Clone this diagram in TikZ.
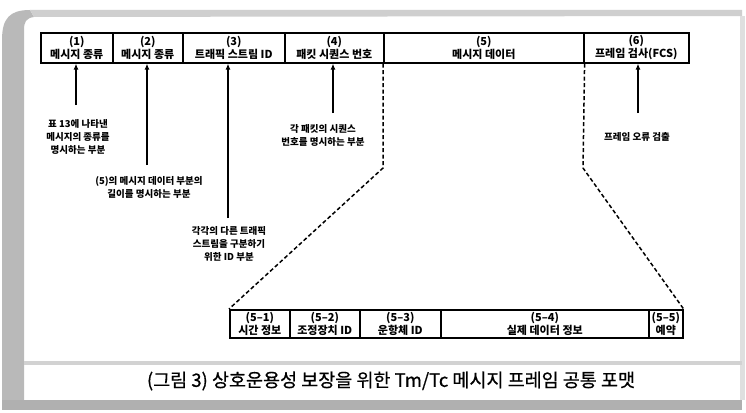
\documentclass[tikz,border=0pt]{standalone}
\usepackage{fontspec}
\newfontfamily\kr{Noto Sans CJK KR}
\newfontfamily\krcap[FakeBold=0.6]{Noto Sans CJK KR}
\usetikzlibrary{arrows.meta}
\begin{document}
\begin{tikzpicture}[x=1pt,y=-1pt,
  box/.style={draw, line width=1.6pt, inner sep=0pt, anchor=north west, align=center,
    minimum height=30pt, font=\kr\bfseries\fontsize{11}{13}\selectfont},
  sbox/.style={box, minimum height=28pt},
  note/.style={align=center, inner sep=0pt, font=\kr\bfseries\fontsize{9.5}{13}\selectfont},
  pin/.style={line width=1.4pt, -{Latex[length=6pt,width=5pt]}},
  dashln/.style={line width=1.5pt, dash pattern=on 4pt off 2.5pt}]
\useasboundingbox (0,0) rectangle (746,412);
\fill[white] (0,0) rectangle (746,412);
% scanned frame
\fill[gray!55] (2,40) .. controls (2,18) and (10,10) .. (30,10) -- (34,17) .. controls (26,18) and (24,22) .. (24,30) -- (24,400) -- (2,400) -- cycle;
\fill[gray!38] (30,10) -- (742,10) -- (742,16) -- (34,17) -- cycle;
\fill[gray!25] (740,16) rectangle (745,400);
\fill[gray!35] (24,361) rectangle (742,365);
\fill[gray!62] (2,400) rectangle (742,410);
% top frame boxes
\node[box, minimum width=72pt]  (t1) at (40,32)  {(1)\\메시지 종류};
\node[box, minimum width=70pt]  (t2) at (112,32) {(2)\\메시지 종류};
\node[box, minimum width=102pt] (t3) at (182,32) {(3)\\트래픽 스트림 ID};
\node[box, minimum width=99pt]  (t4) at (284,32) {(4)\\패킷 시퀀스 번호};
\node[box, minimum width=200pt] (t5) at (383,32) {(5)\\메시지 데이터};
\node[box, minimum width=105pt] (t6) at (583,32) {(6)\\프레임 검사(FCS)};
% notes
\node[note] (n1) at (78,137) {표 13에 나타낸\\메시지의 종류를\\명시하는 부분};
\node[note] (n2) at (149,187) {(5)의 메시지 데이터 부분의\\길이를 명시하는 부분};
\node[note] (n3) at (229,244) {각각의 다른 트래픽\\스트림을 구분하기\\위한 ID 부분};
\node[note] (n4) at (323,135) {각 패킷의 시퀀스\\번호를 명시하는 부분};
\node[note] (n6) at (637,137) {프레임 오류 검출};
% pins
\coordinate (p1) at (76,105);
\coordinate (p2) at (147,165);
\coordinate (p3) at (228,218);
\coordinate (p4) at (333,113);
\coordinate (p6) at (638,113);
\draw[pin] (p1) -- (p1 |- t1.south);
\draw[pin] (p2) -- (p2 |- t2.south);
\draw[pin] (p3) -- (p3 |- t3.south);
\draw[pin] (p4) -- (p4 |- t4.south);
\draw[pin] (p6) -- (p6 |- t6.south);
% bottom boxes
\node[sbox, minimum width=60pt]  (b1) at (229,309) {(5–1)\\시간 정보};
\node[sbox, minimum width=70pt]  (b2) at (289,309) {(5–2)\\조정장치 ID};
\node[sbox, minimum width=81pt]  (b3) at (359,309) {(5–3)\\운항체 ID};
\node[sbox, minimum width=208pt] (b4) at (440,309) {(5–4)\\실제 데이터 정보};
\node[sbox, minimum width=34pt]  (b5) at (648,309) {(5–5)\\예약};
% dashed expansion lines
\coordinate (kl) at (383,168);
\coordinate (kr) at (583,168);
\draw[dashln] (t5.south west) -- (kl) -- (b1.north west);
\draw[dashln] (t5.south east) -- (kr) -- (b5.north east);
% caption
\node[inner sep=0pt, font=\krcap\fontsize{18.5}{22}\selectfont] (cap) at (391,381) {(그림 3) 상호운용성 보장을 위한 Tm/Tc 메시지 프레임 공통 포맷};
\end{tikzpicture}
\end{document}
